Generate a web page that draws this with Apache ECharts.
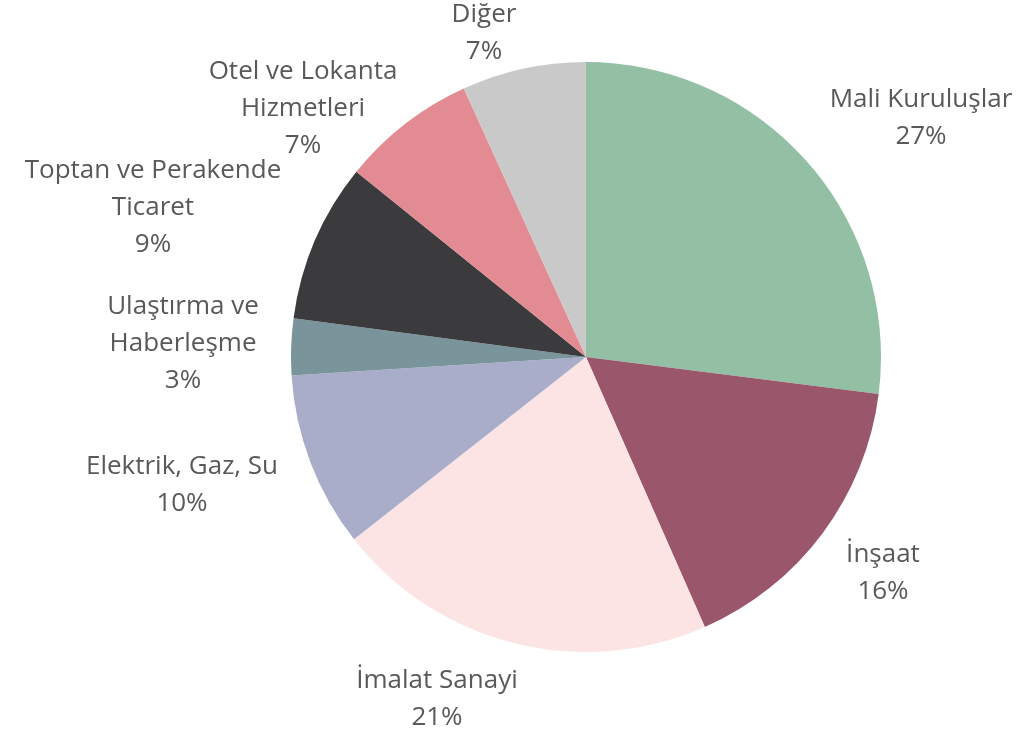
<!DOCTYPE html>
<html><head><meta charset="utf-8">
<script src="https://cdn.jsdelivr.net/npm/echarts@6/dist/echarts.min.js"></script>
<style>html,body{margin:0;padding:0;background:#fff}#c{width:1030px;height:738px}</style>
</head><body><div id="c"></div>
<script>
const categories = ['Mali Kuruluşlar', 'İnşaat', 'İmalat Sanayi', 'Elektrik, Gaz, Su', 'Ulaştırma ve\nHaberleşme', 'Toptan ve Perakende\nTicaret', 'Otel ve Lokanta\nHizmetleri', 'Diğer'];
const values = [27.0, 16.4, 21.0, 9.6, 3.1, 8.7, 7.4, 6.8];
const colors = ['#93BFA5', '#9A566B', '#FCE4E4', '#AAADCA', '#7A949C', '#3B3B3D', '#E38B93', '#C9C9C9'];
// label centre offsets from pie centre (layout only)
const labelOffsets = [[335, -239], [297, 216], [-149, 342], [-404, 128], [-403, -13], [-433, -149], [-283, -248], [-102, -324]];

const chart = echarts.init(document.getElementById('c'));
const cx = 586, cy = 357;
chart.setOption({
  animation: false,
  series: [{
    type: 'pie',
    center: [cx, cy],
    radius: 295,
    startAngle: 90,
    clockwise: true,
    data: categories.map((n, i) => ({ name: n, value: values[i], itemStyle: { color: colors[i] } })),
    itemStyle: { borderWidth: 0 },
    label: {
      show: true,
      position: 'outside',
      formatter: p => p.name + '\n' + Math.round(p.percent) + '%',
      fontFamily: 'Open Sans',
      fontSize: 26,
      lineHeight: 37,
      color: '#595959',
      align: 'center',
      overflow: 'none',
      edgeDistance: 0
    },
    labelLine: { show: false },
    labelLayout: p => ({
      x: cx + labelOffsets[p.dataIndex][0],
      y: cy + labelOffsets[p.dataIndex][1],
      align: 'center',
      verticalAlign: 'middle'
    })
  }]
});
</script></body></html>
